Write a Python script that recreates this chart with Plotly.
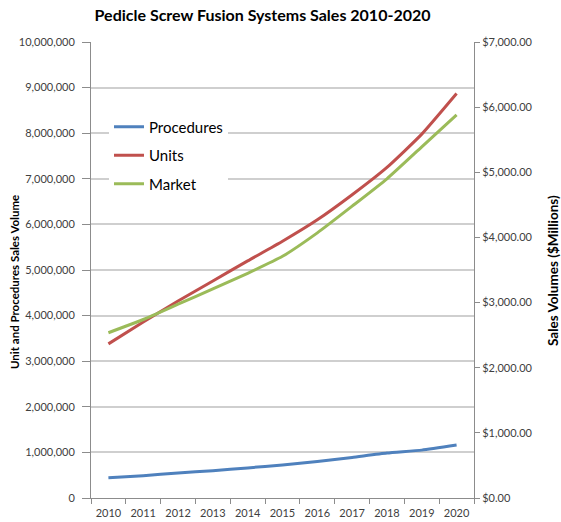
import plotly.graph_objects as go

years = [str(y) for y in range(2010, 2021)]
procedures = [445000, 490000, 550000, 600000, 660000, 725000, 800000, 890000, 985000, 1050000, 1160000]
units = [3380000, 3860000, 4320000, 4760000, 5200000, 5630000, 6100000, 6650000, 7250000, 7980000, 8870000]
market = [2537, 2740, 2975, 3210, 3450, 3710, 4070, 4480, 4900, 5390, 5880]

FONT = "Lato"
AXIS_C = "#8C8C8C"
TICK_C = "#404040"

fig = go.Figure()
fig.add_trace(go.Scatter(x=years, y=procedures, name="Procedures", mode="lines",
                         line=dict(color="#4F81BD", width=3, shape="spline", smoothing=0.5),
                         legendgroup="a"))
fig.add_trace(go.Scatter(x=years, y=units, name="Units", mode="lines",
                         line=dict(color="#C0504D", width=3, shape="spline", smoothing=0.5),
                         legendgroup="b"))
fig.add_trace(go.Scatter(x=years, y=market, name="Market", mode="lines", yaxis="y2",
                         line=dict(color="#9BBB59", width=3, shape="spline", smoothing=0.5),
                         legendgroup="c"))

fig.update_layout(
    width=561, height=522,
    margin=dict(l=91, r=87, t=42, b=24),
    paper_bgcolor="white", plot_bgcolor="white",
    font=dict(family=FONT, color=TICK_C, size=11),
    title=dict(text="<b>Pedicle Screw Fusion Systems Sales 2010-2020</b>",
               font=dict(family=FONT, size=16, color="#000000"),
               x=0.468, xanchor="center", xref="container",
               y=1 - 15 / 522, yanchor="middle", yref="container"),
    xaxis=dict(type="category", range=[-0.5, 10.5], tickson="boundaries",
               ticks="outside", ticklen=5, tickcolor=AXIS_C, tickangle=0,
               ticklabelstandoff=5,
               showline=True, linecolor=AXIS_C, linewidth=1, showgrid=False,
               tickfont=dict(size=11, color=TICK_C), automargin=False),
    yaxis=dict(range=[0, 10000000], dtick=1000000, tickformat=",d",
               showgrid=True, gridcolor="#CFCFCF", gridwidth=1.5, zeroline=False,
               ticks="outside", ticklen=8, tickcolor=AXIS_C, ticklabelstandoff=5,
               showline=True, linecolor=AXIS_C, linewidth=1,
               tickfont=dict(size=11, color=TICK_C), automargin=False),
    yaxis2=dict(range=[0, 7000], dtick=1000, tickprefix="$", tickformat=",.2f",
                overlaying="y", side="right", showgrid=False, zeroline=False,
                ticks="outside", ticklen=5, tickcolor=AXIS_C,
                showline=True, linecolor=AXIS_C, linewidth=1,
                tickfont=dict(size=11, color=TICK_C), automargin=False),
    legend=dict(x=0.047, y=0.85, xanchor="left", yanchor="top",
                bgcolor="white", borderwidth=0,
                font=dict(family=FONT, size=15, color="#000000"),
                traceorder="grouped", tracegroupgap=6),
    annotations=[
        dict(text="<b>Unit and Procedures Sales Volume</b>", textangle=-90,
             xref="paper", yref="paper", x=-(91 - 14) / 383, y=(498 - 282) / 456,
             xanchor="center", yanchor="middle", showarrow=False,
             font=dict(family=FONT, size=11.5, color="#000000")),
        dict(text="<b>Sales Volumes ($Millions)</b>", textangle=-90,
             xref="paper", yref="paper", x=1 + (553 - 474) / 383, y=(498 - 271) / 456,
             xanchor="center", yanchor="middle", showarrow=False,
             font=dict(family=FONT, size=13.5, color="#000000")),
    ],
)

fig.write_html("out.html")
